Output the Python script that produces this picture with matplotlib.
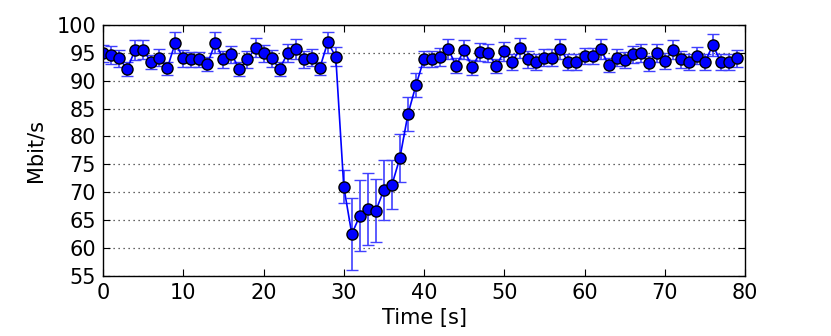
import numpy as np
import matplotlib
matplotlib.use("Agg")
import matplotlib.pyplot as plt

# throughput per second (Mbit/s) and its error
t = np.arange(0, 80)
rate = [94.9, 94.6, 94.0, 92.1, 95.5, 95.5, 93.3, 94.1, 92.2, 96.8,
        94.0, 93.8, 93.8, 93.0, 96.8, 93.8, 94.7, 92.1, 93.8, 95.9,
        94.9, 94.0, 92.1, 94.9, 95.7, 93.8, 94.1, 92.2, 96.9, 94.3,
        71.0, 62.5, 65.8, 67.0, 66.7, 70.4, 71.3, 76.2, 84.0, 89.2,
        93.9, 93.9, 94.3, 95.7, 92.7, 95.5, 92.4, 95.1, 95.0, 92.6,
        95.3, 93.3, 95.9, 93.8, 93.3, 94.1, 94.1, 95.7, 93.3, 93.3,
        94.4, 94.4, 95.7, 92.8, 94.1, 93.7, 94.7, 95.0, 93.1, 95.0,
        93.5, 95.5, 93.8, 93.3, 94.5, 93.3, 96.4, 93.3, 93.3, 94.0]
err = [1.5, 1.7, 1.5, 1.2, 1.8, 1.7, 1.3, 1.5, 1.2, 1.9,
       1.5, 1.4, 1.4, 1.3, 1.9, 1.5, 1.6, 1.2, 1.5, 1.7,
       1.5, 1.5, 1.2, 1.6, 1.8, 1.5, 1.5, 1.2, 1.9, 1.7,
       3.0, 6.4, 6.3, 6.5, 5.7, 5.4, 4.4, 4.3, 3.1, 2.1,
       1.5, 1.5, 1.6, 1.8, 1.3, 1.7, 1.3, 1.6, 1.6, 1.3,
       1.7, 1.4, 1.8, 1.5, 1.4, 1.5, 1.5, 1.8, 1.4, 1.4,
       1.5, 1.5, 1.8, 1.3, 1.5, 1.5, 1.6, 1.6, 1.3, 1.6,
       1.4, 1.7, 1.5, 1.4, 1.6, 1.4, 1.9, 1.4, 1.4, 1.5]

plt.rcParams['font.family'] = 'DejaVu Sans'
fig = plt.figure(figsize=(8.31, 3.36), dpi=100)
ax = fig.add_axes([0.124, 0.179, 0.7725, 0.747])

ax.errorbar(t, rate, yerr=err, color='blue', ecolor='#4040ff', elinewidth=1.2,
            capsize=4, capthick=1.2, marker='o', markersize=8,
            markerfacecolor='blue', markeredgecolor='black', markeredgewidth=1,
            linewidth=1.2)

ax.set_xlim(0, 80)
ax.set_ylim(55, 100)
ax.set_xticks(range(0, 81, 10))
ax.set_yticks(range(55, 101, 5))
ax.yaxis.grid(True, color='#333333', linestyle=(0, (1, 3)), linewidth=0.9)
ax.tick_params(direction='in', top=True, right=True, labelsize=15, length=5, pad=5)
ax.set_xlabel('Time [s]', fontsize=15, labelpad=4)
ax.set_ylabel('Mbit/s', fontsize=15, labelpad=8)
for s in ax.spines.values():
    s.set_linewidth(1)

fig.savefig('out.png', dpi=100)
